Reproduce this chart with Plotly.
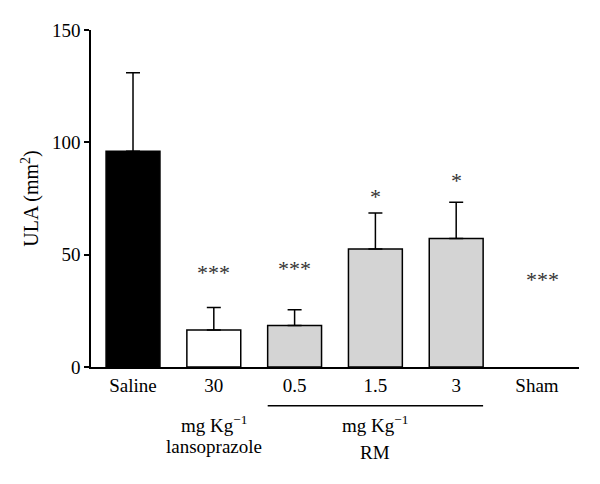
import plotly.graph_objects as go

categories = ["Saline", "30", "0.5", "1.5", "3", "Sham"]
means = [96, 16.5, 18.5, 52.5, 57.2, 0]
errors = [35, 10, 7, 16, 16.1, 0]
bar_colors = ["#000000", "#ffffff", "#d4d4d4", "#d4d4d4", "#d4d4d4", "#d4d4d4"]
signif = ["", "***", "***", "*", "*", "***"]
signif_y = [None, 42, 44, 76, 83, 39]
y_ticks = [0, 50, 100, 150]

FONT = "Liberation Serif"

idx_err = [i for i, e in enumerate(errors) if e > 0]
idx_zero = [i for i, e in enumerate(errors) if e == 0]

fig = go.Figure()
fig.add_trace(go.Bar(
    x=idx_err, y=[means[i] for i in idx_err],
    width=0.667,
    marker=dict(color=[bar_colors[i] for i in idx_err],
                line=dict(color="black", width=1.5)),
    error_y=dict(type="data", symmetric=False,
                 array=[errors[i] for i in idx_err],
                 arrayminus=[0] * len(idx_err),
                 color="black", thickness=1.5, width=7),
    showlegend=False, hoverinfo="skip",
))
fig.add_trace(go.Bar(
    x=idx_zero, y=[means[i] for i in idx_zero],
    width=0.667,
    marker=dict(color=[bar_colors[i] for i in idx_zero],
                line=dict(color="black", width=0)),
    showlegend=False, hoverinfo="skip",
))

for i, (s, yv) in enumerate(zip(signif, signif_y)):
    if s:
        fig.add_annotation(x=i, y=yv, text=s, showarrow=False,
                           xshift=6 if i == 5 else 0,
                           font=dict(family=FONT, size=22, color="#333"),
                           xanchor="center", yanchor="middle")

# group labels below axis
fig.add_annotation(x=1, y=-0.212, yref="paper", text="mg Kg<sup>−1</sup>",
                   showarrow=False, font=dict(family=FONT, size=19, color="black"))
fig.add_annotation(x=1, y=-0.272, yref="paper", text="lansoprazole",
                   showarrow=False, font=dict(family=FONT, size=19, color="black"))
fig.add_annotation(x=3, y=-0.212, yref="paper", text="mg Kg<sup>−1</sup>",
                   showarrow=False, font=dict(family=FONT, size=19, color="black"))
fig.add_annotation(x=3, y=-0.29, yref="paper", text="RM",
                   showarrow=False, font=dict(family=FONT, size=19, color="black"))
fig.add_shape(type="line", xref="x", yref="paper", x0=1.667, x1=4.333,
              y0=-0.115, y1=-0.115, line=dict(color="black", width=1.5))

fig.update_layout(
    width=600, height=484,
    margin=dict(l=91, r=21, t=30, b=117),
    plot_bgcolor="white", paper_bgcolor="white",
    font=dict(family=FONT, size=19, color="black"),
    barmode="overlay",
    xaxis=dict(range=[-0.52, 5.52], tickmode="array",
               tickvals=list(range(len(categories))), ticktext=categories,
               showline=True, linecolor="black", linewidth=1.5,
               ticks="", showgrid=False, zeroline=False,
               tickfont=dict(family=FONT, size=19)),
    yaxis=dict(range=[0, 150], tickvals=y_ticks,
               showline=True, linecolor="black", linewidth=1.5,
               ticks="outside", ticklen=5, tickwidth=1.5, tickcolor="black",
               showgrid=False, zeroline=False,
               tickfont=dict(family=FONT, size=19),
               title=dict(text="ULA (mm<sup>2</sup>)", font=dict(family=FONT, size=20),
                          standoff=8)),
)

fig.write_html("out.html", config={"displayModeBar": False},
               post_script="document.body.style.margin='0';")
